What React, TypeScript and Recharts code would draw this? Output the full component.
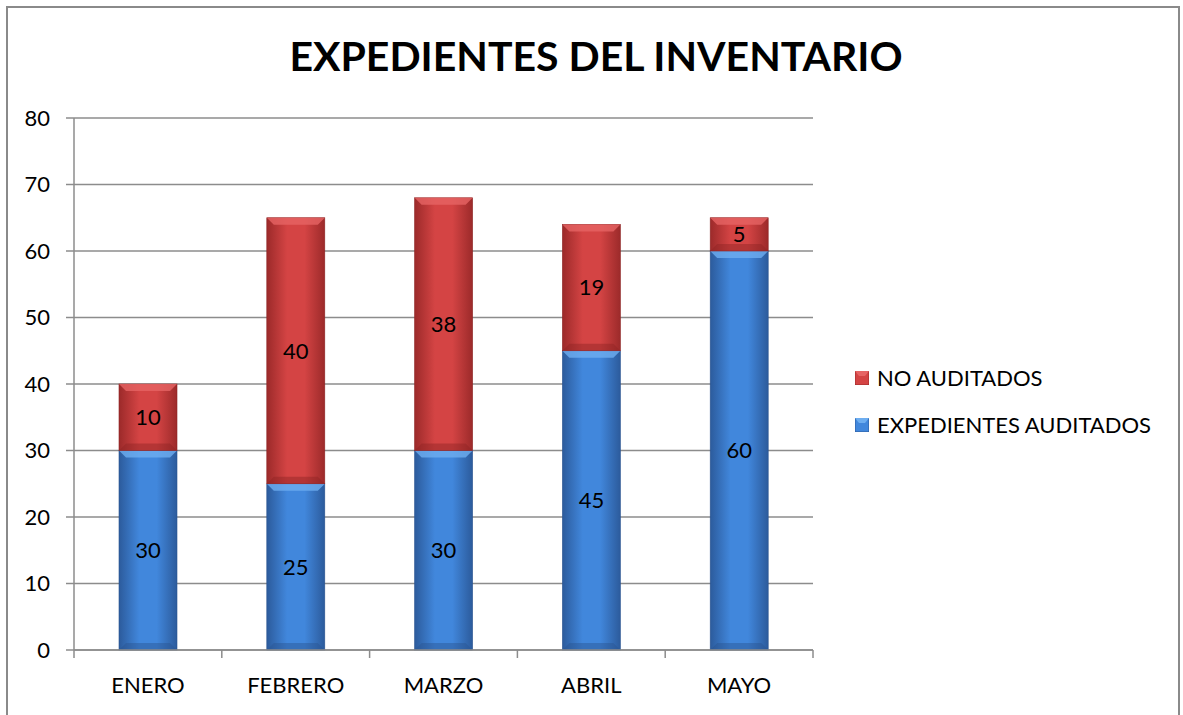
import { BarChart, Bar, XAxis, YAxis, CartesianGrid, LabelList } from 'recharts';

const months = ['ENERO', 'FEBRERO', 'MARZO', 'ABRIL', 'MAYO'];
const auditados = [30, 25, 30, 45, 60];
const noAuditados = [10, 40, 38, 19, 5];
const yTicks = [0, 10, 20, 30, 40, 50, 60, 70, 80];

const data = months.map((m, i) => ({ name: m, auditados: auditados[i], noAuditados: noAuditados[i] }));

const FONT = 'Lato, "Open Sans", sans-serif';
const FS = 22;
const AXIS = '#8c8c8c';

const palette: Record<string, { edge: string; mid: string; top: string; bottom: string }> = {
    blue: { edge: '#2c5b9c', mid: '#4187dc', top: '#6eaef0', bottom: '#2a5490' },
    red: { edge: '#9c2a2a', mid: '#d44444', top: '#e66464', bottom: '#8e2424' },
};

function BevelBar(props: any) {
    const { x, y, width, height, tone } = props;
    if (!height || height <= 0) return null;
    const p = palette[tone];
    const b = Math.min(7, height / 3);
    return (
        <g>
            <rect x={x} y={y} width={width} height={height} fill={`url(#grad-${tone})`} stroke={p.bottom} strokeWidth={0.6} />
            <polygon points={`${x},${y} ${x + width},${y} ${x + width - b},${y + b} ${x + b},${y + b}`} fill={p.top} opacity={0.8} />
            <polygon points={`${x},${y + height} ${x + width},${y + height} ${x + width - b},${y + height - b} ${x + b},${y + height - b}`} fill={p.bottom} opacity={0.45} />
        </g>
    );
}

// category label at band centre, tick mark on the band boundaries (Excel style)
function MonthTick(props: any) {
    const { x, y, payload, index, visibleTicksCount } = props;
    const off = payload.offset || 0;
    const axisY = y - 27;
    return (
        <g>
            <line x1={x - off} x2={x - off} y1={axisY} y2={axisY + 8} stroke={AXIS} strokeWidth={1.5} />
            {index === visibleTicksCount - 1 && (
                <line x1={x + off} x2={x + off} y1={axisY} y2={axisY + 8} stroke={AXIS} strokeWidth={1.5} />
            )}
            <text x={x} y={y} dy="0.71em" textAnchor="middle" fill="#000" fontSize={FS} fontFamily={FONT}>
                {payload.value}
            </text>
        </g>
    );
}

function LegendBox() {
    const items = [
        { label: 'NO AUDITADOS', tone: 'red' },
        { label: 'EXPEDIENTES AUDITADOS', tone: 'blue' },
    ];
    return (
        <div style={{ fontFamily: FONT, fontSize: FS, color: '#000' }}>
            {items.map((it) => (
                <div key={it.label} style={{ display: 'flex', alignItems: 'center', height: 47 }}>
                    <svg width={14} height={14} style={{ marginRight: 8 }}>
                        <rect x={0} y={0} width={14} height={14} fill={palette[it.tone].mid} stroke={palette[it.tone].edge} />
                        <polygon points="0,0 14,0 10,5 4,5" fill={palette[it.tone].top} />
                    </svg>
                    <span>{it.label}</span>
                </div>
            ))}
        </div>
    );
}

export default function App() {
    return (
        <div style={{ position: 'absolute', left: 0, top: 0, width: 1183, height: 715, background: '#fff', overflow: 'hidden' }}>
            <div style={{ position: 'absolute', left: 6, top: 6, width: 1174, height: 720, border: '2px solid #8a8a8a', boxSizing: 'border-box' }} />
            <div style={{ position: 'absolute', left: 0, top: 31, width: 1192, textAlign: 'center', fontFamily: FONT, fontWeight: 700, fontSize: 41, color: '#000' }}>
                EXPEDIENTES DEL INVENTARIO
            </div>
            <div style={{ position: 'absolute', left: 0, top: 0 }}>
                <BarChart
                    width={1183}
                    height={715}
                    data={data}
                    margin={{ top: 118, right: 370, left: 0, bottom: 35 }}
                    barSize={58}
                >
                    <defs>
                        {Object.keys(palette).map((k) => (
                            <linearGradient key={k} id={`grad-${k}`} x1="0" y1="0" x2="1" y2="0">
                                <stop offset="0%" stopColor={palette[k].edge} />
                                <stop offset="35%" stopColor={palette[k].mid} />
                                <stop offset="65%" stopColor={palette[k].mid} />
                                <stop offset="100%" stopColor={palette[k].edge} />
                            </linearGradient>
                        ))}
                    </defs>
                    <CartesianGrid vertical={false} stroke={AXIS} strokeWidth={1.5} />
                    <XAxis
                        dataKey="name"
                        height={30}
                        stroke={AXIS}
                        strokeWidth={1.5}
                        tickLine={false}
                        tickSize={8}
                        tickMargin={19}
                        interval={0}
                        tick={<MonthTick />}
                    />
                    <YAxis
                        width={74}
                        domain={[0, 80]}
                        ticks={yTicks}
                        stroke={AXIS}
                        strokeWidth={1.5}
                        tickSize={8}
                        tickMargin={16}
                        tick={{ fill: '#000', fontSize: FS, fontFamily: FONT }}
                    />
                    <Bar dataKey="auditados" name="EXPEDIENTES AUDITADOS" stackId="a" isAnimationActive={false} shape={(p: any) => <BevelBar {...p} tone="blue" />}>
                        <LabelList dataKey="auditados" position="center" fill="#000" fontSize={FS} fontFamily={FONT} />
                    </Bar>
                    <Bar dataKey="noAuditados" name="NO AUDITADOS" stackId="a" isAnimationActive={false} shape={(p: any) => <BevelBar {...p} tone="red" />}>
                        <LabelList dataKey="noAuditados" position="center" fill="#000" fontSize={FS} fontFamily={FONT} />
                    </Bar>
                </BarChart>
            </div>
            <div style={{ position: 'absolute', left: 855, top: 354, width: 320 }}>
                <LegendBox />
            </div>
        </div>
    );
}
